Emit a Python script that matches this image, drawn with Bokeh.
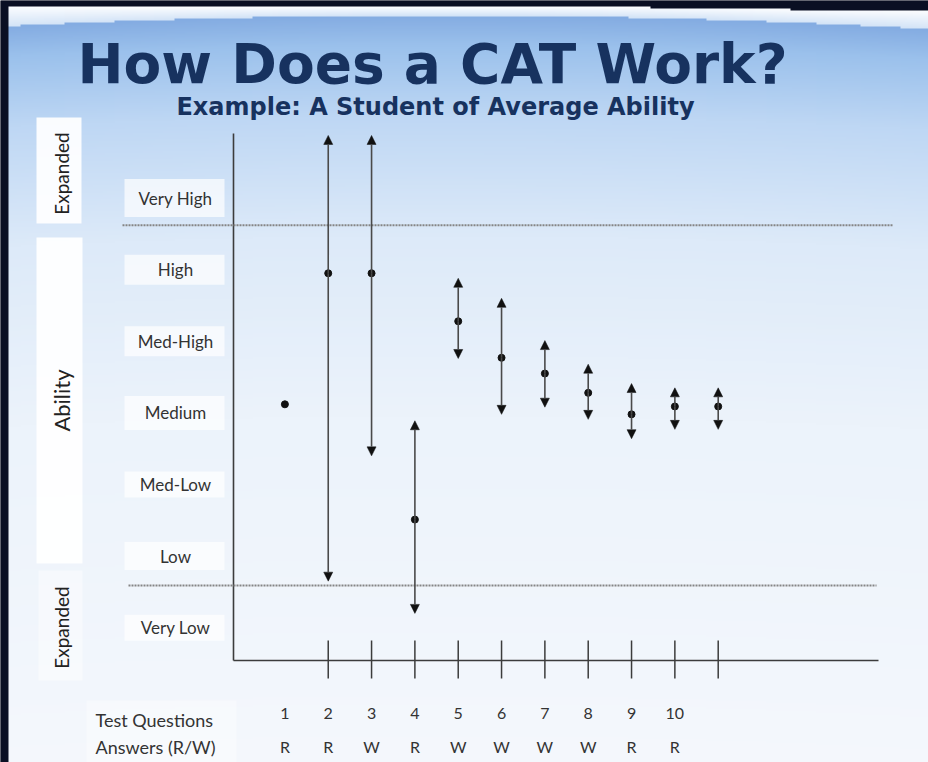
import numpy as np
from bokeh.plotting import figure
from bokeh.models import Range1d, ColumnDataSource, Arrow, NormalHead
from bokeh.core.properties import value
from bokeh.embed import file_html
from bokeh.resources import INLINE

# ---------------- data ----------------
level_names = ["Very Low", "Low", "Med-Low", "Medium", "Med-High", "High", "Very High"]
level_values = [1, 2, 3, 4, 5, 6, 7]

steps = [1, 2, 3, 4, 5, 6, 7, 8, 9, 10, 11]
estimate = [4.12, 5.95, 5.95, 2.51, 5.28, 4.77, 4.55, 4.28, 3.98, 4.09, 4.09]
upper = [None, 7.875, 7.875, 3.89, 5.88, 5.60, 5.01, 4.68, 4.41, 4.35, 4.35]
lower = [None, 1.65, 3.40, 1.20, 4.76, 3.98, 4.08, 3.91, 3.64, 3.77, 3.77]

questions = [1, 2, 3, 4, 5, 6, 7, 8, 9, 10]
answers = ["R", "R", "W", "R", "W", "W", "W", "W", "R", "R"]
tick_steps = [2, 3, 4, 5, 6, 7, 8, 9, 10, 11]

expanded_upper = 6.62
expanded_lower = 1.59

title = "How Does a CAT Work?"
subtitle = "Example: A Student of Average Ability"

# ---------------- layout (page pixels) ----------------
W, H = 928, 762
def Y(py):
    return H - py

Q_PX1, Q_STEP = 284.4, 43.33       # pixel of step 1, pixels per step
AB_PX4, AB_STEP = 412.4, 71.6      # pixel of level 4, pixels per level

p = figure(width=W, height=H, x_range=Range1d(0, W), y_range=Range1d(0, H),
           output_backend="svg", toolbar_location=None, min_border=0,
           x_axis_location=None, y_axis_location=None)
p.grid.visible = False
p.outline_line_color = None
p.background_fill_color = "#0a0f1f"
p.border_fill_color = "#0a0f1f"
p.extra_x_ranges = {"q": Range1d(1 + (0 - Q_PX1) / Q_STEP, 1 + (W - Q_PX1) / Q_STEP)}
p.extra_y_ranges = {"ab": Range1d(4 - (H - AB_PX4) / AB_STEP, 4 + AB_PX4 / AB_STEP)}

# ---------------- background slide gradient ----------------
nx, ny = W // 2, H // 2
xs = (np.arange(nx) + 0.5) * (W / nx)
ys = (np.arange(ny) + 0.5) * (H / ny)
XX, YY = np.meshgrid(xs, ys)
edge_black = 7 + 4 * np.clip((XX - 650) / 278, 0, 1)
band_bot = 15 + 5.68e-5 * (XX - 440) ** 2
stops_d = [0, 30, 100, 220, 400, 760]
stops_c = [(132, 172, 226), (155, 193, 236), (190, 215, 244), (221, 234, 249),
           (236, 243, 251), (245, 248, 253)]
d = YY - band_bot
rgb = np.zeros((ny, nx, 3))
for k in range(3):
    rgb[..., k] = np.interp(d, stops_d, [c[k] for c in stops_c])
t = np.clip((YY - edge_black) / np.maximum(band_bot - edge_black, 1), 0, 1)
band = (YY >= edge_black) & (YY < band_bot)
for k, (a, b) in enumerate(zip((250, 252, 255), (212, 228, 247))):
    rgb[..., k] = np.where(band, a + (b - a) * t, rgb[..., k])
dark = (YY < edge_black) | (XX < 8)
for k, c in enumerate((10, 15, 35)):
    rgb[..., k] = np.where(dark, c, rgb[..., k])
img = np.empty((ny, nx), dtype=np.uint32)
view = img.view(dtype=np.uint8).reshape((ny, nx, 4))
view[..., 0] = rgb[..., 0]
view[..., 1] = rgb[..., 1]
view[..., 2] = rgb[..., 2]
view[..., 3] = 255
p.image_rgba(image=[img[::-1]], x=0, y=0, dw=W, dh=H)

# ---------------- side boxes and labels ----------------
p.quad(left=[36, 36], right=[81, 82], top=[Y(117), Y(237)], bottom=[Y(223), Y(563)],
       fill_color="white", fill_alpha=0.92, line_color=None)
p.quad(left=[38], right=[82], top=[Y(570)], bottom=[Y(680)],
       fill_color="white", fill_alpha=0.45, line_color=None)
p.quad(left=[86], right=[236], top=[Y(700)], bottom=[Y(762)],
       fill_color="white", fill_alpha=0.35, line_color=None)

p.text(x=[61, 61], y=[Y(173), Y(627)], text=["Expanded", "Expanded"], angle=np.pi / 2,
       text_font=value("Lato"), text_font_size="19px", text_color="#222222",
       text_align="center", text_baseline="middle")
p.text(x=[61], y=[Y(400)], text=["Ability"], angle=np.pi / 2,
       text_font=value("Lato"), text_font_size="22px", text_color="#222222",
       text_align="center", text_baseline="middle")

# level label boxes + labels
box_h = [26, 28, 26, 34, 30, 30, 38]
p.rect(x=[174] * 7, y=level_values, width=100, height=box_h, width_units="screen",
       height_units="screen", y_range_name="ab", fill_color="white", fill_alpha=0.7,
       line_color=None)
p.text(x=[175] * 7, y=level_values, text=level_names, y_range_name="ab",
       text_font=value("Lato"), text_font_size="17px", text_color="#333333",
       text_align="center", text_baseline="middle")

# ---------------- axes ----------------
p.segment(x0=[233, 233], y0=[Y(133), Y(660)], x1=[233, 878], y1=[Y(660), Y(660)],
          line_color="#3c3c3c", line_width=1.6)
p.segment(x0=tick_steps, x1=tick_steps, y0=[Y(640)] * 10, y1=[Y(678)] * 10,
          x_range_name="q", line_color="#3c3c3c", line_width=1.5)

# expanded boundaries (dotted)
p.segment(x0=[122, 128], x1=[893, 876], y0=[expanded_upper, expanded_lower],
          y1=[expanded_upper, expanded_lower], y_range_name="ab",
          line_color="#858585", line_width=2, line_dash="2 1")

# ---------------- estimate arrows ----------------
src = ColumnDataSource(dict(x=steps[1:], y=estimate[1:], top=upper[1:], bottom=lower[1:]))
for end_field in ("top", "bottom"):
    p.add_layout(Arrow(end=NormalHead(size=9, fill_color="#111111", line_color="#111111",
                                      line_width=0.5),
                       x_start="x", y_start="y", x_end="x", y_end=end_field, source=src,
                       x_range_name="q", y_range_name="ab",
                       line_color="#4a4a4a", line_width=1.6))
p.scatter(x=steps, y=estimate, x_range_name="q", y_range_name="ab", size=7,
          marker="circle", fill_color="#111111", line_color="#111111")

# ---------------- question / answer rows ----------------
p.text(x=questions, y=[Y(713)] * 10, text=[str(q) for q in questions], x_range_name="q",
       text_font=value("Lato"), text_font_size="16px", text_color="#333333",
       text_align="center", text_baseline="middle")
p.text(x=questions, y=[Y(746)] * 10, text=answers, x_range_name="q",
       text_font=value("Lato"), text_font_size="16px", text_color="#333333",
       text_align="center", text_baseline="middle")
p.text(x=[95, 95], y=[Y(719), Y(746)], text=["Test Questions", "Answers (R/W)"],
       text_font=value("Lato"), text_font_size="18px", text_color="#333333",
       text_align="left", text_baseline="middle")

# ---------------- titles ----------------
p.text(x=[432], y=[Y(63)], text=[title], text_font=value("DejaVu Sans"),
       text_font_size="55px", text_font_style="bold", text_color="#17325f",
       text_align="center", text_baseline="middle")
p.text(x=[435], y=[Y(106)], text=[subtitle], text_font=value("DejaVu Sans"),
       text_font_size="24px", text_font_style="bold", text_color="#17325f",
       text_align="center", text_baseline="middle")

open("out.html", "w").write(file_html(p, INLINE))
